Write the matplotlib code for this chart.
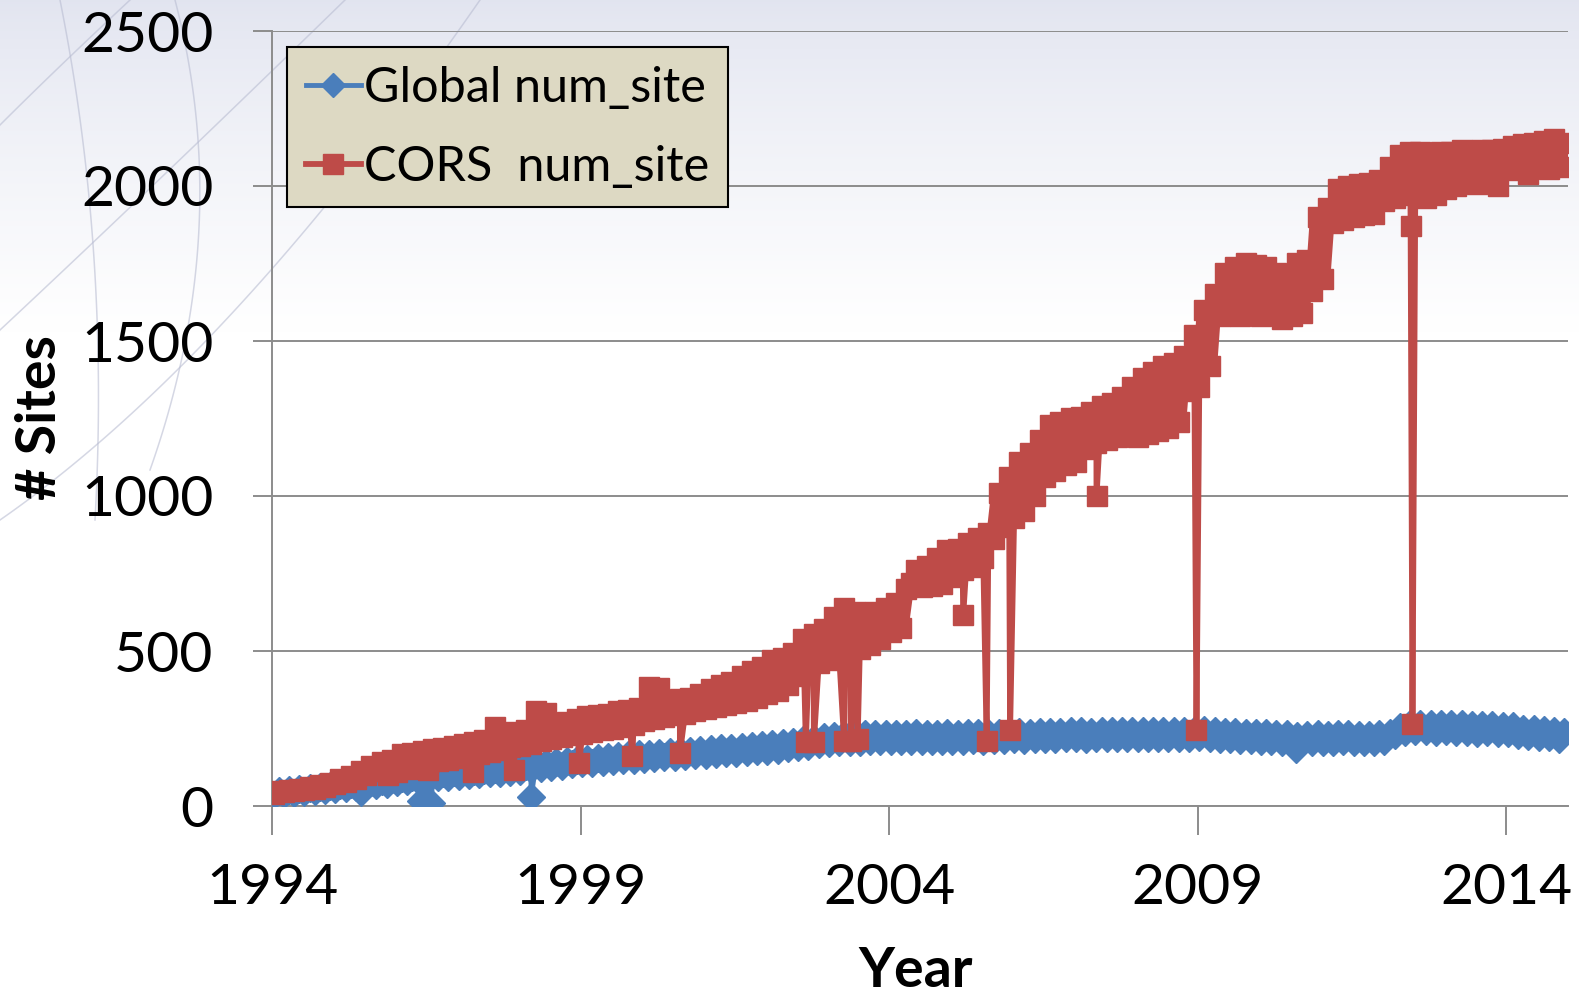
import numpy as np
import matplotlib.pyplot as plt
from matplotlib.lines import Line2D

# monthly samples, Jan 1994 .. Dec 2014 (day-to-day scatter kept as low/high pairs)
global_sites = [
    36, 48, 40, 52, 43, 55, 46, 58, 49, 62, 52, 64,              # 1994
    54, 67, 57, 70, 60, 74, 64, 78, 68, 82, 72, 86,              # 1995
    76, 90, 80, 94, 84, 98, 88, 102, 92, 106, 95, 110,           # 1996
    97, 112, 100, 114, 102, 117, 105, 120, 108, 123, 111, 127,   # 1997
    114, 130, 118, 134, 122, 138, 126, 142, 130, 146, 134, 150,  # 1998
    138, 153, 140, 156, 142, 158, 145, 161, 148, 164, 150, 167,  # 1999
    152, 169, 155, 171, 157, 173, 159, 176, 162, 178, 164, 181,  # 2000
    166, 184, 168, 186, 170, 188, 172, 190, 175, 193, 177, 196,  # 2001
    179, 199, 182, 203, 186, 207, 190, 212, 195, 217, 199, 222,  # 2002
    203, 226, 205, 228, 207, 230, 208, 231, 209, 232, 210, 233,  # 2003
    210, 233, 209, 232, 211, 234, 210, 233, 209, 232, 210, 234,  # 2004
    210, 233, 211, 234, 212, 235, 211, 234, 213, 236, 214, 237,  # 2005
    215, 238, 214, 237, 216, 239, 215, 238, 217, 240, 218, 241,  # 2006
    218, 241, 217, 240, 219, 242, 218, 241, 220, 243, 219, 242,  # 2007
    219, 242, 218, 241, 220, 243, 219, 242, 218, 241, 220, 243,  # 2008
    222, 245, 220, 243, 217, 240, 215, 238, 213, 236, 212, 235,  # 2009
    211, 234, 210, 233, 208, 231, 200, 225, 207, 230, 208, 231,  # 2010
    207, 230, 208, 231, 209, 232, 207, 230, 206, 229, 208, 231,  # 2011
    210, 235, 228, 255, 240, 265, 242, 266, 241, 265, 240, 264,  # 2012
    242, 265, 240, 263, 238, 262, 237, 260, 238, 261, 236, 259,  # 2013
    236, 258, 228, 250, 225, 247, 223, 245, 221, 243, 217, 238,  # 2014
]

cors_sites = [
    40, 48, 44, 52, 47, 56, 52, 62, 56, 68, 62, 74,                  # 1994
    70, 88, 78, 98, 88, 112, 100, 130, 112, 142, 120, 150,           # 1995
    110, 168, 120, 172, 130, 178, 140, 185, 145, 188, 150, 192,      # 1996
    155, 200, 160, 205, 168, 212, 175, 255, 182, 235, 190, 240,      # 1997
    195, 245, 200, 305, 210, 300, 215, 265, 222, 272, 228, 280,      # 1998
    232, 290, 238, 295, 245, 298, 250, 305, 255, 310, 262, 315,      # 1999
    275, 385, 280, 380, 288, 340, 292, 345, 298, 350, 305, 360,      # 2000
    312, 378, 318, 390, 325, 400, 332, 420, 340, 435, 348, 448,      # 2001
    360, 470, 372, 478, 390, 492, 420, 540, 440, 555, 460, 570,      # 2002
    470, 610, 480, 640, 495, 625, 505, 615, 520, 625, 540, 640,      # 2003
    560, 655, 575, 700, 720, 762, 705, 775, 710, 800, 715, 825,      # 2004
    740, 830, 760, 850, 770, 865, 800, 880, 860, 1010, 900, 1060,    # 2005
    930, 1110, 950, 1140, 1000, 1180, 1060, 1230, 1080, 1240, 1100, 1250,    # 2006
    1110, 1255, 1150, 1270, 1170, 1290, 1180, 1300, 1190, 1320, 1200, 1350,  # 2007
    1190, 1380, 1200, 1400, 1210, 1420, 1220, 1430, 1240, 1450, 1340, 1520,  # 2008
    1350, 1600, 1420, 1650, 1580, 1720, 1590, 1740, 1580, 1750, 1590, 1745,  # 2009
    1580, 1740, 1590, 1720, 1570, 1690, 1580, 1750, 1590, 1760, 1660, 1900,  # 2010
    1700, 1930, 1880, 1990, 1890, 2000, 1900, 2005, 1905, 2010, 1910, 2020,  # 2011
    1950, 2060, 1960, 2100, 1970, 2110, 1975, 2110, 1960, 2105, 1970, 2110,  # 2012
    1990, 2110, 2000, 2115, 2010, 2110, 2005, 2115, 2010, 2115, 2000, 2120,  # 2013
    2050, 2130, 2060, 2135, 2040, 2140, 2060, 2145, 2055, 2150, 2060, 2140,  # 2014
]

# single-day dropouts (decimal year, sites)
global_drop_t = [1995.45, 1996.42, 1996.58, 1998.2, 2010.6]
global_drop_v = [45, 15, 10, 28, 185]
cors_drop_t = [1995.88, 1996.53, 1997.26, 1997.92, 1998.98, 1999.84, 2000.61,
               2002.65, 2002.78, 2003.27, 2003.38, 2003.49, 2005.2, 2005.58,
               2005.96, 2007.36, 2008.98, 2012.45, 2012.48]
cors_drop_v = [100, 115, 110, 115, 140, 160, 170,
               205, 205, 210, 210, 215, 615, 210,
               245, 1000, 245, 1870, 265]

year_ticks = [1994, 1999, 2004, 2009, 2014]
y_ticks = [0, 500, 1000, 1500, 2000, 2500]

blue = '#4a7ebb'
red = '#be4b48'
grid_c = '#8c8c8c'
FONT = ['Lato', 'DejaVu Sans']
plt.rcParams['font.family'] = FONT


def month_t(vals):
    return 1994 + (np.arange(len(vals)) + 0.3) / 12.0


def with_drops(vals, dt, dv):
    x = np.concatenate([month_t(vals), dt])
    y = np.concatenate([np.asarray(vals, float), dv])
    order = np.argsort(x, kind='stable')
    return x[order], y[order]


fig = plt.figure(figsize=(15.79, 9.97), dpi=100)

# slide background: soft gradient with a few faint arcs
bg = fig.add_axes([0, 0, 1, 1], zorder=-5)
grad = np.clip(np.linspace(0, 997, 400) / 330.0, 0, 1) ** 0.8
top = np.array([0.885, 0.895, 0.94])
img = top + (1 - top) * grad[:, None, None]
img = np.repeat(img, 2, axis=1)
bg.imshow(img, extent=[0, 1579, 997, 0], aspect='auto')
s = np.linspace(0, 1, 100)
for p0, p1, p2 in [((0, 330), (150, 190), (345, 0)),
                   ((0, 125), (55, 70), (130, 0)),
                   ((0, 520), (230, 360), (480, 0)),
                   ((60, 0), (110, 250), (95, 520)),
                   ((175, 0), (235, 230), (150, 470))]:
    bx = (1 - s) ** 2 * p0[0] + 2 * (1 - s) * s * p1[0] + s ** 2 * p2[0]
    by = (1 - s) ** 2 * p0[1] + 2 * (1 - s) * s * p1[1] + s ** 2 * p2[1]
    bg.plot(bx, by, color='#b9bdd2', lw=1.1, alpha=0.6)
bg.set_xlim(0, 1579)
bg.set_ylim(997, 0)
bg.axis('off')

ax = fig.add_axes([272 / 1579, 1 - 806 / 997, 1296 / 1579, 775 / 997])
ax.set_facecolor('none')

gx, gy = with_drops(global_sites, global_drop_t, global_drop_v)
cx, cy = with_drops(cors_sites, cors_drop_t, cors_drop_v)
# heavy underlay so the day-to-day scatter reads as a solid band
ax.plot(month_t(global_sites), global_sites, color=blue, lw=7,
        solid_joinstyle='round', solid_capstyle='round', zorder=3)
ax.plot(gx, gy, color=blue, lw=3.5, marker='D', ms=14, mec=blue, mfc=blue, zorder=3)
ax.plot(month_t(cors_sites), cors_sites, color=red, lw=11,
        solid_joinstyle='round', solid_capstyle='round', zorder=4)
ax.plot(cx, cy, color=red, lw=4.2, marker='s', ms=14.5, mec=red, mfc=red, zorder=4)

ax.set_xlim(1994, 2015)
ax.set_ylim(0, 2500)
ax.set_xticks(year_ticks)
ax.set_xticklabels([str(y) for y in year_ticks])
ax.set_yticks(y_ticks)
ax.yaxis.grid(True, color=grid_c, lw=1.4)
ax.set_axisbelow(True)
for side in ['top', 'right']:
    ax.spines[side].set_visible(False)
for side in ['left', 'bottom']:
    ax.spines[side].set_color(grid_c)
    ax.spines[side].set_linewidth(1.4)
ax.tick_params(axis='y', length=14, width=1.4, color=grid_c, pad=28, labelsize=41)
ax.tick_params(axis='x', length=21, width=1.4, color=grid_c, pad=20, labelsize=41)

handles = [Line2D([], [], color=blue, lw=3.5, marker='D', ms=12),
           Line2D([], [], color=red, lw=4.2, marker='s', ms=14)]
leg = ax.legend(handles, ['Global num_site', 'CORS  num_site'],
                loc='upper left', bbox_to_anchor=(0.0116, 0.979), borderaxespad=0,
                fontsize=35, handlelength=1.15, handletextpad=0.05,
                labelspacing=0.72, borderpad=0.38, fancybox=False, framealpha=1,
                facecolor='#ddd9c3', edgecolor='black')
leg.get_frame().set_linewidth(1.5)

fig.text(40 / 1579, 1 - 418 / 997, '# Sites', rotation=90, fontsize=40,
         fontweight='bold', ha='center', va='center')
fig.text(916 / 1579, 1 / 997, 'Year', fontsize=40, fontweight='bold',
         ha='center', va='bottom')

fig.savefig('out.png', dpi=100)
